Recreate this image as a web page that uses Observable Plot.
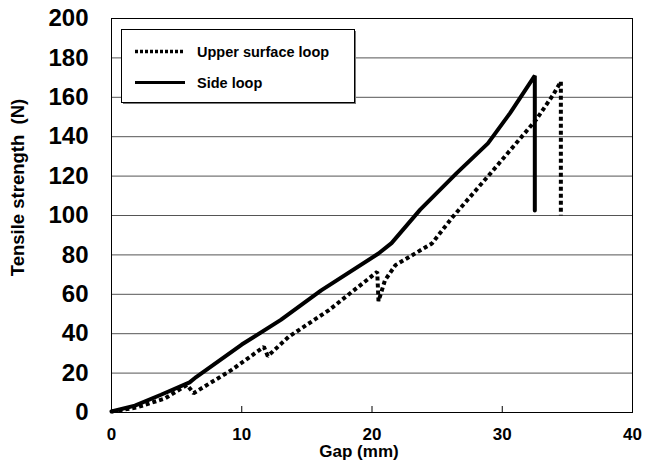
<!DOCTYPE html>
<html>
<head>
<meta charset="utf-8">
<script src="https://cdn.jsdelivr.net/npm/d3@7"></script>
<script src="https://cdn.jsdelivr.net/npm/@observablehq/plot@0.6"></script>
<style>
  html, body { margin: 0; padding: 0; background: white; }
  #chart { width: 645px; height: 468px; }
</style>
</head>
<body>
<div id="chart"></div>
<script>
// ---- data ----
const xTicks = [0, 10, 20, 30, 40];
const yTicks = [0, 20, 40, 60, 80, 100, 120, 140, 160, 180, 200];

const seriesNames = ["Upper surface loop", "Side loop"];

const upperGap   = [0, 1.9, 4.1, 5.8, 6.3, 9.2, 11.7, 12.0, 13.6, 16.7, 20.4, 20.5, 21.0, 21.8, 24.6, 26.2, 29.1, 32.6, 33.9, 34.5, 34.5];
const upperForce = [0.5, 2.5, 7.1, 14, 9.8, 21.5, 33.3, 28.6, 38.4, 52, 71.4, 56.5, 67.2, 74.8, 85.8, 99.3, 121.4, 148.6, 161.2, 168, 100];

const sideGap   = [0, 1.8, 3.8, 6.0, 6.5, 10, 13, 16.1, 20.5, 21.5, 23.7, 26.5, 28.9, 30.6, 32.5, 32.5];
const sideForce = [0.5, 3.5, 9, 15.3, 18, 34.5, 47, 62, 80.7, 86, 103, 121.5, 136.6, 152, 171, 102.5];

const xTitle = "Gap (mm)";
const yTitle = "Tensile strength  (N)";

// ---- build tables ----
const upper = upperGap.map((g, i) => ({gap: g, force: upperForce[i]}));
const side = sideGap.map((g, i) => ({gap: g, force: sideForce[i]}));

function legendMark() {
  const g = d3.create("svg:g");
  g.append("rect")
    .attr("x", 123).attr("y", 31).attr("width", 233).attr("height", 73)
    .attr("fill", "#777");
  g.append("rect")
    .attr("x", 121.5).attr("y", 29.5).attr("width", 233).attr("height", 73)
    .attr("fill", "white").attr("stroke", "black").attr("stroke-width", 1);
  const rows = [
    {name: seriesNames[0], dash: "3 2", w: 3.5, y: 51.5},
    {name: seriesNames[1], dash: null, w: 3, y: 82.5}
  ];
  for (const r of rows) {
    const l = g.append("line")
      .attr("x1", 135).attr("x2", 185).attr("y1", r.y).attr("y2", r.y)
      .attr("stroke", "black").attr("stroke-width", r.w);
    if (r.dash) l.attr("stroke-dasharray", r.dash).style("stroke-dasharray", r.dash);
    g.append("text")
      .attr("x", 197).attr("y", r.y)
      .attr("dy", "0.36em")
      .attr("text-anchor", "start")
      .attr("font-size", 14.5)
      .attr("font-weight", "bold")
      .attr("fill", "black")
      .text(r.name);
  }
  return g.node();
}

const chart = Plot.plot({
  width: 645,
  height: 468,
  marginLeft: 111,
  marginRight: 13,
  marginTop: 18,
  marginBottom: 56,
  style: {
    fontFamily: "'Liberation Sans', Arial, Helvetica, sans-serif",
    fontWeight: "bold",
    background: "white",
    color: "black"
  },
  x: {domain: [0, 40]},
  y: {domain: [0, 200]},
  marks: [
    Plot.gridY(yTicks, {stroke: "#555", strokeOpacity: 1, strokeWidth: 1}),
    Plot.frame({stroke: "black", strokeWidth: 1}),
    Plot.axisX(xTicks, {tickSize: 0, tickPadding: 15, fontSize: 17, fontWeight: "bold", label: null}),
    Plot.axisX(xTicks, {tickSize: 6, dy: -6, text: null, label: null, stroke: "black"}),
    Plot.axisY(yTicks, {tickSize: 0, tickPadding: 23, fontSize: 24, fontWeight: "bold", label: null}),
    Plot.line(upper, {x: "gap", y: "force", stroke: "black", strokeWidth: 4, strokeDasharray: "4 3", strokeLinecap: "butt", strokeLinejoin: "miter", className: "dotted-line"}),
    Plot.line(side, {x: "gap", y: "force", stroke: "black", strokeWidth: 4, strokeLinejoin: "miter"}),
    Plot.text([xTitle], {frameAnchor: "bottom", textAnchor: "middle", lineAnchor: "middle", dy: 39, dx: -13, fontSize: 17, fontWeight: "bold", fill: "black"}),
    Plot.text([yTitle], {frameAnchor: "left", textAnchor: "middle", lineAnchor: "middle", rotate: -90, dx: -93, dy: -28, fontSize: 18.5, fontWeight: "bold", fill: "black"}),
    legendMark
  ]
});

// make sure the dash pattern is applied on the path itself
d3.select(chart).selectAll(".dotted-line path")
  .attr("stroke-dasharray", "4 3")
  .style("stroke-dasharray", "4 3");

document.getElementById("chart").appendChild(chart);
</script>
</body>
</html>
